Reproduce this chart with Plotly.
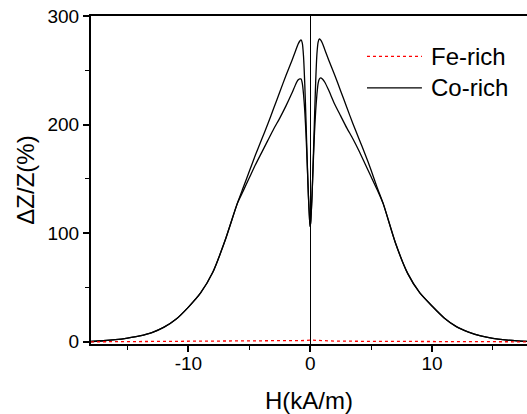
import plotly.graph_objects as go

# ---- data ----
H_co = [-18, -17, -16, -15, -14, -13, -12, -11, -10, -9, -8, -7, -6, -5.5, -5, -4.5, -4,
        -3.5, -3, -2.5, -2, -1.5, -1.2, -1.0, -0.85, -0.75, -0.65, -0.55, -0.45, -0.35,
        -0.25, -0.15, -0.05, 0,
        0.05, 0.15, 0.25, 0.35, 0.45, 0.55, 0.65, 0.75, 0.85, 1.0, 1.2, 1.5, 2, 2.5, 3,
        3.5, 4, 4.5, 5, 5.5, 6, 7, 8, 9, 10, 11, 12, 13, 14, 15, 16, 17, 18]

co_upper = [0.3, 1.0, 2.0, 3.5, 5.5, 8.5, 13.5, 21, 32, 45, 64, 93, 127, 142, 157, 172, 186,
            200, 215, 230, 245, 259, 268, 274, 277, 278, 275, 263, 238, 205,
            168, 135, 112, 106,
            112, 135, 168, 205, 240, 265, 276, 279, 278, 275, 269, 260, 246, 231, 216,
            201, 187, 173, 158, 142, 127, 91, 63, 45, 33, 22, 14, 9, 5.5, 3.2, 1.8, 0.9, 0.3]

co_lower = [0.3, 1.0, 2.0, 3.5, 5.5, 8.5, 13.5, 21, 32, 45, 64, 93, 127, 139, 151, 163, 174,
            185, 196, 206, 217, 229, 237, 241, 242, 242, 238, 228, 213, 192,
            165, 135, 112, 106,
            112, 135, 165, 192, 213, 228, 238, 242, 243, 242, 239, 232, 219, 208, 197,
            187, 176, 164, 152, 140, 127, 91, 63, 45, 33, 22, 14, 9, 5.5, 3.2, 1.8, 0.9, 0.3]

H_fe = [-18, -12, -8, -4, -2, -1, -0.5, 0, 0.5, 1, 2, 4, 8, 12, 18]
fe_vals = [0.0, 0.2, 0.3, 0.5, 0.7, 0.9, 1.2, 1.6, 1.2, 0.9, 0.7, 0.5, 0.3, 0.2, 0.0]

series_names = ["Fe-rich", "Co-rich"]
x_ticks = [-10, 0, 10]
y_ticks = [0, 100, 200, 300]

FONT = "Liberation Sans, Arial, sans-serif"

fig = go.Figure()
for vals in (co_upper, co_lower):
    fig.add_trace(go.Scatter(x=H_co, y=vals, mode="lines", name=series_names[1],
                             line=dict(color="black", width=1.3, shape="spline", smoothing=0.6),
                             showlegend=False))
fig.add_trace(go.Scatter(x=H_fe, y=fe_vals, mode="lines", name=series_names[0],
                         line=dict(color="#ff0000", width=1.3, dash="dot"), showlegend=False))

# manual legend (paper coordinates)
legend_rows = [(0.877, "#ff0000", "dot", series_names[0]),
               (0.781, "black", "solid", series_names[1])]
for yy, col, dash, name in legend_rows:
    fig.add_shape(type="line", xref="paper", yref="paper", x0=0.633, x1=0.759, y0=yy, y1=yy,
                  line=dict(color=col, width=1.3, dash=dash))
    fig.add_annotation(xref="paper", yref="paper", x=0.775, y=yy, text=name, showarrow=False,
                       xanchor="left", yanchor="middle", font=dict(family=FONT, size=24, color="black"))

fig.update_layout(
    width=527, height=414,
    margin=dict(l=91, r=0, t=16, b=70),
    paper_bgcolor="white", plot_bgcolor="white",
    font=dict(family=FONT, color="black"),
    showlegend=False,
)
fig.update_xaxes(
    range=[-18, 17.8], tickvals=x_ticks, ticktext=[str(v) for v in x_ticks],
    showgrid=False, zeroline=True, zerolinecolor="black", zerolinewidth=1.3,
    showline=True, linecolor="black", linewidth=2, mirror=True,
    ticks="outside", ticklen=6, tickwidth=1.5, tickcolor="black",
    tickfont=dict(size=19, family=FONT), ticklabelstandoff=-5,
    minor=dict(dtick=5, ticks="outside", ticklen=4, tickwidth=1.3, tickcolor="black", showgrid=False),
    title=dict(text="H(kA/m)", font=dict(size=24, family=FONT), standoff=19),
)
fig.update_yaxes(
    range=[-2, 300], tickvals=y_ticks, ticktext=[str(v) for v in y_ticks],
    showgrid=False, zeroline=False,
    showline=True, linecolor="black", linewidth=2, mirror=False,
    ticks="outside", ticklen=6, tickwidth=1.5, tickcolor="black",
    tickfont=dict(size=19, family=FONT),
    minor=dict(dtick=50, ticks="outside", ticklen=4, tickwidth=1.3, tickcolor="black", showgrid=False),
    title=dict(text="ΔZ/Z(%)", font=dict(size=24, family=FONT), standoff=6),
)

fig.write_html("out.html", config={"displayModeBar": False},
               post_script="document.body.style.margin='0';document.body.style.overflow='hidden';")
